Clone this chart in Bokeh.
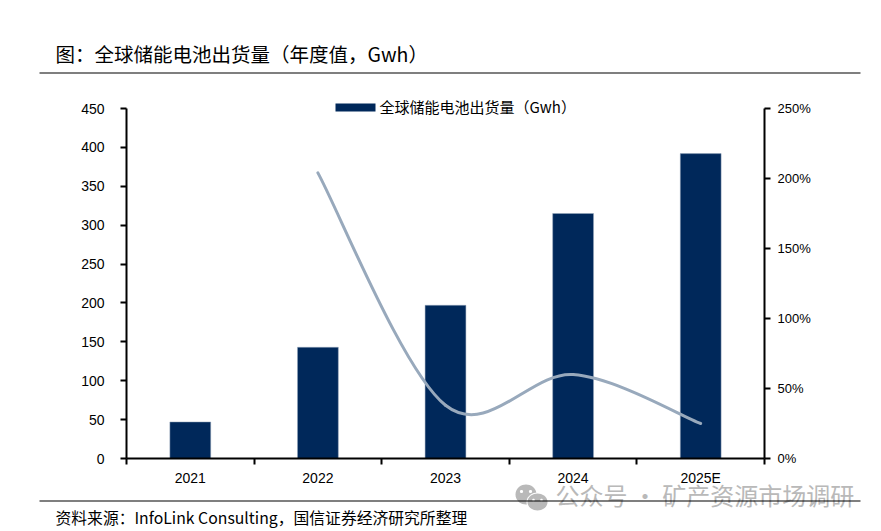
import math
from bokeh.plotting import figure
from bokeh.layouts import column
from bokeh.models import Range1d, LinearAxis, FixedTicker, NumeralTickFormatter, Label, PolyAnnotation, ColumnDataSource
from bokeh.embed import file_html
from bokeh.resources import INLINE

years = ["2021", "2022", "2023", "2024", "2025E"]
shipments = [47, 143, 197, 315, 392]
growth = [None, 2.04, 0.38, 0.60, 0.25]
left_ticks = [0, 50, 100, 150, 200, 250, 300, 350, 400, 450]
right_ticks = [0, 0.5, 1.0, 1.5, 2.0, 2.5]
left_max, right_max = 450, 2.5
title_text = "\u56fe\uff1a\u5168\u7403\u50a8\u80fd\u7535\u6c60\u51fa\u8d27\u91cf\uff08\u5e74\u5ea6\u503c\uff0cGwh\uff09"
legend_text = "\u5168\u7403\u50a8\u80fd\u7535\u6c60\u51fa\u8d27\u91cf\uff08Gwh\uff09"
source_text = "\u8d44\u6599\u6765\u6e90\uff1aInfoLink Consulting\uff0c\u56fd\u4fe1\u8bc1\u5238\u7ecf\u6d4e\u7814\u7a76\u6240\u6574\u7406"
watermark_text = "\u516c\u4f17\u53f7 \u00b7 \u77ff\u4ea7\u8d44\u6e90\u5e02\u573a\u8c03\u7814"

CJK = "Noto Sans CJK SC"
LATIN = "Liberation Sans"
INK = "#000000"
BAR = "#00285A"
LINE = "#98A9BC"
MARK = "#B9B9B9"

WIDTH = 881
TOP_H, MAIN_END, FOOT_START, PAGE_H = 94, 492, 470, 531
FRAME_L, FRAME_R, AXIS_TOP, AXIS_BOTTOM = 126, 764, 108, 458

head_room = 1 + (AXIS_TOP - TOP_H) / (AXIS_BOTTOM - AXIS_TOP)

p = figure(width=WIDTH, height=MAIN_END - TOP_H, output_backend="svg", toolbar_location=None, frame_align=False,
           x_range=Range1d(0, 5), y_range=Range1d(0, left_max * head_room),
           min_border_left=FRAME_L, min_border_right=WIDTH - FRAME_R, min_border_top=0,
           min_border_bottom=MAIN_END - AXIS_BOTTOM,
           outline_line_color=None, background_fill_color="white", border_fill_color="white")
p.grid.visible = False
p.xaxis.visible = False
p.yaxis.visible = False
p.extra_y_ranges["pct"] = Range1d(0, right_max * head_room)

centres = [i + 0.5 for i in range(len(years))]

def style(ax):
    ax.axis_line_color = INK
    ax.axis_line_width = 2
    ax.major_tick_line_color = INK
    ax.major_tick_line_width = 2
    ax.major_tick_out = 6
    ax.major_tick_in = 0
    ax.minor_tick_line_color = None
    ax.major_label_text_font = LATIN
    ax.major_label_text_font_size = "14px"
    ax.major_label_text_color = INK

bottom = LinearAxis(ticker=FixedTicker(ticks=centres, minor_ticks=list(range(len(years) + 1))),
                    major_label_overrides={c: y for c, y in zip(centres, years)})
style(bottom)
bottom.major_tick_line_color = None
bottom.minor_tick_line_color = INK
bottom.minor_tick_line_width = 2
bottom.minor_tick_out = 6
bottom.minor_tick_in = 0
bottom.major_tick_out = 6
bottom.major_label_standoff = 5
p.add_layout(bottom, "below")

left = LinearAxis(ticker=FixedTicker(ticks=left_ticks), bounds=(0, left_max))
style(left)
left.major_label_standoff = 16
p.add_layout(left, "left")

right = LinearAxis(y_range_name="pct", ticker=FixedTicker(ticks=right_ticks), bounds=(0, right_max),
                   formatter=NumeralTickFormatter(format="0%"))
style(right)
right.major_label_text_font_size = "13px"
right.major_label_standoff = 7
p.add_layout(right, "right")

p.vbar(x=centres, top=shipments, width=0.32, fill_color=BAR, line_color=LINE, line_width=0.5)

# Smoothed line between the yearly values (one cubic segment per year pair)
gx = [c for c, g in zip(centres, growth) if g is not None]
gy = [g for g in growth if g is not None]
d = {k: [] for k in ("x0", "y0", "x1", "y1", "cx0", "cy0", "cx1", "cy1")}
n = len(gx)
for i in range(n - 1):
    a, b = max(i - 1, 0), min(i + 2, n - 1)
    d["x0"].append(gx[i]); d["y0"].append(gy[i])
    d["x1"].append(gx[i + 1]); d["y1"].append(gy[i + 1])
    d["cx0"].append(gx[i] + (gx[i + 1] - gx[a]) / 6)
    d["cy0"].append(gy[i] + (gy[i + 1] - gy[a]) / 6)
    d["cx1"].append(gx[i + 1] - (gx[b] - gx[i]) / 6)
    d["cy1"].append(gy[i + 1] - (gy[b] - gy[i]) / 6)
p.bezier(x0="x0", y0="y0", x1="x1", y1="y1", cx0="cx0", cy0="cy0", cx1="cx1", cy1="cy1",
         source=ColumnDataSource(d), line_color=LINE, line_width=3, line_cap="round", y_range_name="pct")

def strip(height):
    f = figure(width=WIDTH, height=height, output_backend="svg", toolbar_location=None, frame_align=False,
               x_range=Range1d(0, WIDTH), y_range=Range1d(0, height), x_axis_type=None, y_axis_type=None,
               min_border=0, outline_line_color=None, background_fill_color=None, border_fill_color=None)
    f.grid.visible = False
    return f

head = strip(TOP_H)
foot = strip(PAGE_H - FOOT_START)
foot.margin = (FOOT_START - MAIN_END, 0, 0, 0)

# page pixel -> annotation screen units (measured from each frame's lower-left corner)
def label(fig, x0, y0, text, x, y, size, color=INK, font=CJK):
    fig.add_layout(Label(x=x - x0, y=y0 - y, x_units="screen", y_units="screen", text=text,
                         text_font=font, text_font_size=size, text_color=color,
                         text_baseline="middle", text_align="left"))

def poly(fig, x0, y0, xs, ys, color):
    fig.add_layout(PolyAnnotation(xs=[x - x0 for x in xs], ys=[y0 - y for y in ys],
                                  xs_units="screen", ys_units="screen", fill_color=color, fill_alpha=1,
                                  line_color=None))

def rect(fig, x0, y0, l, r, t, b, color=INK):
    poly(fig, x0, y0, [l, r, r, l], [t, t, b, b], color)

def ellipse(fig, x0, y0, cx, cy, rx, ry, color):
    steps = range(36)
    poly(fig, x0, y0, [cx + rx * math.cos(i * math.pi / 18) for i in steps],
         [cy + ry * math.sin(i * math.pi / 18) for i in steps], color)

# header
label(head, 0, TOP_H, title_text, 55, 53, "19.5px")
rect(head, 0, TOP_H, 39, 860, 72, 73)

# legend
label(p, FRAME_L, AXIS_BOTTOM, legend_text, 379, 106, "15px")
rect(p, FRAME_L, AXIS_BOTTOM, 335, 375, 103, 111, BAR)

# footer with watermark
fy = PAGE_H
ellipse(foot, 0, fy, 525.5, 494, 10.5, 10, MARK)
ellipse(foot, 0, fy, 537, 501.5, 11, 9.5, "#FFFFFF")
ellipse(foot, 0, fy, 537, 501.5, 10, 8.5, MARK)
for ex, ey, er in [(521, 491, 1.6), (530, 491, 1.6), (533, 499.5, 1.3), (541, 499.5, 1.3)]:
    ellipse(foot, 0, fy, ex, ey, er, er, "#FFFFFF")
label(foot, 0, fy, watermark_text, 555, 494, "24px", color=MARK)
rect(foot, 0, fy, 39, 860, 500, 501)
label(foot, 0, fy, source_text, 55, 517, "15.8px")

page = column(head, p, foot, spacing=0)
open("out.html", "w").write(file_html(page, INLINE))
